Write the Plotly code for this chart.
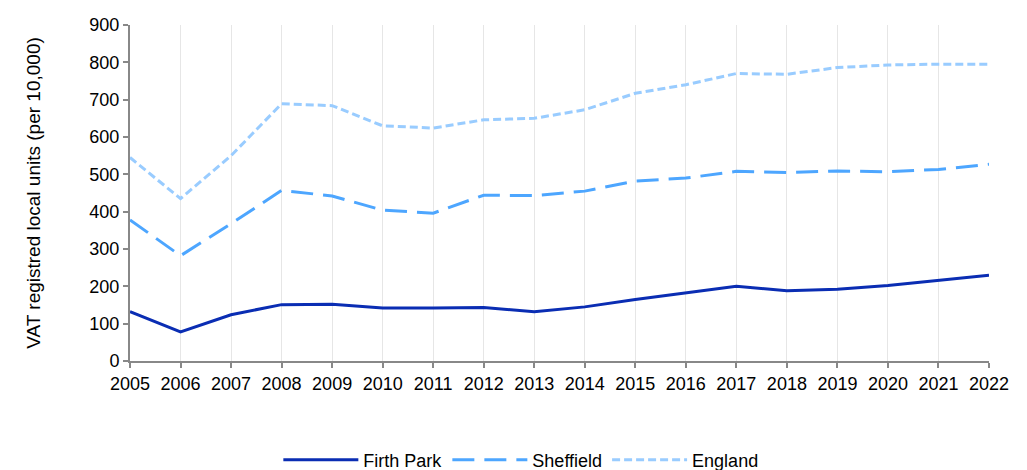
import plotly.graph_objects as go

years = list(range(2005, 2023))
firth_park = [132, 78, 124, 151, 152, 142, 142, 143, 132, 145, 165, 183, 200, 188, 192, 202, 216, 230]
sheffield = [378, 282, 368, 457, 442, 404, 396, 444, 443, 455, 482, 490, 508, 505, 509, 507, 513, 527]
england = [545, 435, 550, 689, 684, 630, 624, 646, 650, 673, 717, 740, 770, 768, 786, 793, 795, 795]

series = [
    ("Firth Park", firth_park, "#0a2db3", "solid"),
    ("Sheffield", sheffield, "#4da6ff", "22px,10px"),
    ("England", england, "#99ccff", "8px,4px"),
]

fig = go.Figure()
for name, vals, color, dash in series:
    fig.add_trace(go.Scatter(x=years, y=vals, name=name, mode="lines",
                             line=dict(color=color, width=3, dash=dash)))

FS = 18
fig.update_layout(
    width=1019, height=462,
    margin=dict(l=122, r=38, t=7, b=109),
    paper_bgcolor="white", plot_bgcolor="white",
    font=dict(family="Liberation Sans, Arial, sans-serif", size=FS, color="#000"),
    legend=dict(orientation="h", x=0.455, xanchor="center", xref="paper",
                y=0.0216, yanchor="middle", yref="container",
                font=dict(size=FS), itemwidth=75),
    showlegend=True,
)
fig.update_xaxes(
    range=[2005, 2022], tickmode="array", tickvals=years, ticktext=[str(y) for y in years],
    showgrid=True, gridcolor="#e6e6e6", gridwidth=1,
    showline=True, linecolor="#888888", linewidth=2,
    ticks="outside", ticklen=5, tickcolor="#888888", tickwidth=2,
    zeroline=False, tickfont=dict(size=FS), ticklabeloverflow="allow",
)
fig.update_yaxes(
    range=[0, 900], tickvals=list(range(0, 901, 100)),
    showgrid=False, showline=True, linecolor="#888888", linewidth=2,
    ticks="outside", ticklen=5, tickcolor="#888888", tickwidth=2,
    zeroline=False, tickfont=dict(size=FS), ticklabeloverflow="allow",
    title=dict(text="VAT registred local units (per 10,000)", font=dict(size=19), standoff=44),
)

fig.write_html("out.html")
